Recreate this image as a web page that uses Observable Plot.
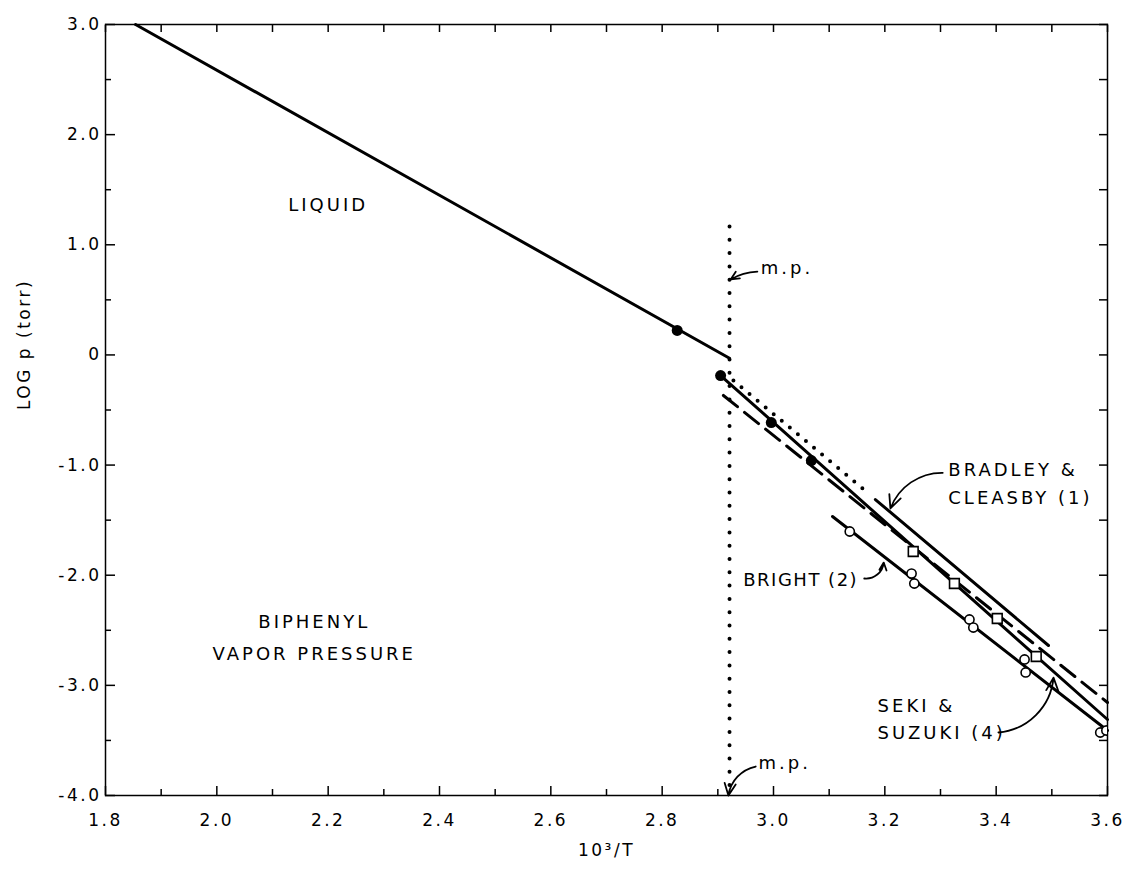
<!DOCTYPE html>
<html><head><meta charset="utf-8">
<script src="https://cdn.jsdelivr.net/npm/d3@7"></script>
<script src="https://cdn.jsdelivr.net/npm/@observablehq/plot@0.6"></script>
<style>
body{margin:0;background:#fff;}
svg text{letter-spacing:2.5px;}
svg g.anno text{letter-spacing:3px;}
svg g.anno2 text{letter-spacing:1.5px;}
</style></head><body><div id="chart"></div>
<script>
// ---- axes ----
const xTicksMajor = [1.8, 2.0, 2.2, 2.4, 2.6, 2.8, 3.0, 3.2, 3.4, 3.6];
const xTickLabels = ["1.8", "2.0", "2.2", "2.4", "2.6", "2.8", "3.0", "3.2", "3.4", "3.6"];
const xTicksMinor = [1.9, 2.1, 2.3, 2.5, 2.7, 2.9, 3.1, 3.3, 3.5];
const yTicksMajor = [3, 2, 1, 0, -1, -2, -3, -4];
const yTickLabels = ["3.0", "2.0", "1.0", "0", "-1.0", "-2.0", "-3.0", "-4.0"];
const yTicksMinor = [2.5, 1.5, 0.5, -0.5, -1.5, -2.5, -3.5];

// ---- lines (10^3/T, log p) ----
const liquidX = [1.854, 2.921];
const liquidY = [3.0, -0.03];
const mpX = [2.921, 2.921];
const mpY = [1.166, -4.0];
const solidX = [2.905, 3.6];
const solidY = [-0.187, -3.31];
const dashedX = [2.91, 3.6];
const dashedY = [-0.368, -3.156];
const dottedX = [2.928, 3.171];
const dottedY = [-0.232, -1.258];
const bradleyX = [3.183, 3.494];
const bradleyY = [-1.313, -2.638];
const brightX = [3.106, 3.6];
const brightY = [-1.467, -3.41];

// ---- points ----
const filledX = [2.827, 2.905, 2.996, 3.068];
const filledY = [0.222, -0.187, -0.614, -0.959];
const squareX = [3.251, 3.325, 3.402, 3.472];
const squareY = [-1.785, -2.075, -2.393, -2.738];
const circleX = [3.137, 3.248, 3.253, 3.352, 3.359, 3.451, 3.453, 3.587, 3.598];
const circleY = [-1.603, -1.985, -2.075, -2.402, -2.475, -2.765, -2.883, -3.428, -3.41];

// ---- annotations ----
const centerText = ["LIQUID", "BIPHENYL", "VAPOR PRESSURE"];
const centerX = [2.20, 2.175, 2.175];
const centerY = [1.36, -2.43, -2.72];
const startText = ["m.p.", "m.p.", "BRADLEY &", "CLEASBY (1)", "SEKI &", "SUZUKI (4)"];
const startX = [2.977, 2.973, 3.314, 3.314, 3.187, 3.187];
const startY = [0.785, -3.71, -1.05, -1.30, -3.19, -3.437];
const endText = ["BRIGHT (2)"];
const endX = [3.152];
const endY = [-2.048];
const arrowX1 = [2.971, 2.968, 3.304, 3.163, 3.404];
const arrowY1 = [0.757, -3.737, -1.07, -2.03, -3.428];
const arrowX2 = [2.923, 2.919, 3.210, 3.198, 3.503];
const arrowY2 = [0.685, -4.0, -1.394, -1.885, -2.93];
const arrowBend = [-15, -35, -35, -45, -40];

const pts = (xs, ys) => xs.map((x, i) => ({x, y: ys[i]}));
const txt = (ts, xs, ys) => ts.map((t, i) => ({t, x: xs[i], y: ys[i]}));
const xFmt = new Map(xTicksMajor.map((v, i) => [v, xTickLabels[i]]));
const yFmt = new Map(yTicksMajor.map((v, i) => [v, yTickLabels[i]]));
const arrowMarks = arrowX1.map((x1, i) =>
  Plot.arrow([{x1, y1: arrowY1[i], x2: arrowX2[i], y2: arrowY2[i]}],
    {x1: "x1", y1: "y1", x2: "x2", y2: "y2", bend: arrowBend[i], stroke: "#000", strokeWidth: 1.8, headLength: 12, headAngle: 50}));
const FONT = "DejaVu Sans";

const chart = Plot.plot({
  width: 1126,
  height: 873,
  marginTop: 24,
  marginBottom: 78,
  marginLeft: 105,
  marginRight: 19,
  style: {fontFamily: FONT, background: "#fff", color: "#000"},
  x: {domain: [1.8, 3.6]},
  y: {domain: [-4, 3]},
  marks: [
    Plot.frame({stroke: "#000", strokeWidth: 1.5}),
    // bottom ticks (inward)
    Plot.axisX(xTicksMajor, {anchor: "bottom", tickSize: 9, dy: -9, tickFormat: () => "", label: null, strokeWidth: 1.5}),
    Plot.axisX(xTicksMinor, {anchor: "bottom", tickSize: 6, dy: -6, tickFormat: () => "", label: null, strokeWidth: 1.5}),
    Plot.axisX(xTicksMajor, {anchor: "bottom", tickSize: 0, tickPadding: 18, tickFormat: d => xFmt.get(d), label: null, fontSize: 17}),
    // top ticks
    Plot.axisX(xTicksMajor.concat(xTicksMinor), {anchor: "top", tickSize: 7, dy: 7, tickFormat: () => "", label: null, strokeWidth: 1.5}),
    // left ticks
    Plot.axisY(yTicksMajor, {anchor: "left", tickSize: 10, dx: 10, tickFormat: () => "", label: null, strokeWidth: 1.5}),
    Plot.axisY(yTicksMinor, {anchor: "left", tickSize: 6, dx: 6, tickFormat: () => "", label: null, strokeWidth: 1.5}),
    Plot.axisY(yTicksMajor, {anchor: "left", tickSize: 0, tickPadding: 4, tickFormat: d => yFmt.get(d), label: null, fontSize: 17}),
    // right ticks
    Plot.axisY(yTicksMajor.concat(yTicksMinor), {anchor: "right", tickSize: 9, dx: -9, tickFormat: () => "", label: null, strokeWidth: 1.5}),
    // axis titles
    Plot.text(["10³/T"], {text: d => d, frameAnchor: "bottom", dy: 60, fontSize: 17}),
    Plot.text(["LOG p (torr)"], {text: d => d, frameAnchor: "left", dx: -81, rotate: -90, fontSize: 17}),
    // lines
    Plot.line(pts(liquidX, liquidY), {x: "x", y: "y", stroke: "#000", strokeWidth: 3}),
    Plot.line(pts(mpX, mpY), {x: "x", y: "y", stroke: "#000", strokeWidth: 4, strokeLinecap: "round", strokeDasharray: "0,13.3"}),
    Plot.line(pts(solidX, solidY), {x: "x", y: "y", stroke: "#000", strokeWidth: 3}),
    Plot.line(pts(dashedX, dashedY), {x: "x", y: "y", stroke: "#000", strokeWidth: 3, strokeDasharray: "18,9"}),
    Plot.line(pts(dottedX, dottedY), {x: "x", y: "y", stroke: "#000", strokeWidth: 4, strokeLinecap: "round", strokeDasharray: "0,10.5"}),
    Plot.line(pts(bradleyX, bradleyY), {x: "x", y: "y", stroke: "#000", strokeWidth: 3}),
    Plot.line(pts(brightX, brightY), {x: "x", y: "y", stroke: "#000", strokeWidth: 3}),
    // points
    Plot.dot(pts(filledX, filledY), {x: "x", y: "y", r: 5.5, fill: "#000"}),
    Plot.dot(pts(squareX, squareY), {x: "x", y: "y", symbol: "square", r: 5.5, fill: "#fff", stroke: "#000", strokeWidth: 1.6}),
    Plot.dot(pts(circleX, circleY), {x: "x", y: "y", r: 4.6, fill: "#fff", stroke: "#000", strokeWidth: 1.6, clip: true}),
    // annotations
    Plot.text(txt(centerText, centerX, centerY), {x: "x", y: "y", text: "t", textAnchor: "middle", fontSize: 18, className: "anno"}),
    Plot.text(txt(startText, startX, startY), {x: "x", y: "y", text: "t", textAnchor: "start", fontSize: 18, className: "anno"}),
    Plot.text(txt(endText, endX, endY), {x: "x", y: "y", text: "t", textAnchor: "end", fontSize: 18, className: "anno2"}),
    ...arrowMarks
  ]
});
document.getElementById("chart").appendChild(chart);
</script></body></html>
